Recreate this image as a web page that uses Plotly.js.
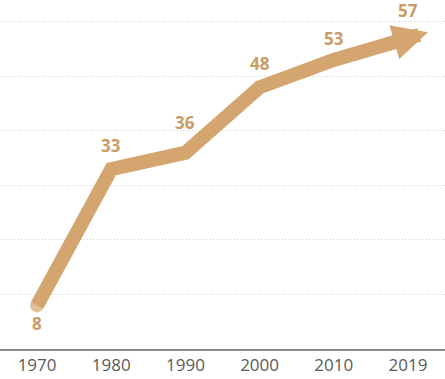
<!DOCTYPE html>
<html>
<head>
<meta charset="utf-8">
<script src="https://cdn.plot.ly/plotly-3.0.1.min.js"></script>
<style>html,body{margin:0;padding:0;background:#fff;}#chart{width:445px;height:379px;}</style>
</head>
<body>
<div id="chart"></div>
<script>
const years = ["1970", "1980", "1990", "2000", "2010", "2019"];
const values = [8, 33, 36, 48, 53, 57];
const labelShift = [-18, 24, 30, 24, 21, 28];

const lineColor = "#D4A56F";
const textColor = "#C99C66";

const n = values.length;
const ext = 0.27;
const slope = values[n - 1] - values[n - 2];
const tipX = (n - 1) + ext;
const tipY = values[n - 1] + slope * ext;
const tailX = (n - 1) - 0.3;
const tailY = values[n - 1] - slope * 0.3;

const annotations = values.map((v, i) => ({
  x: i, y: v, xref: "x", yref: "y",
  text: String(v), showarrow: false,
  yshift: labelShift[i],
  font: {family: "Open Sans, sans-serif", size: 17, color: textColor, weight: 700}
}));
annotations.push({
  x: tipX, y: tipY, xref: "x", yref: "y",
  ax: tailX, ay: tailY, axref: "x", ayref: "y",
  text: "", showarrow: true, arrowhead: 2, arrowsize: 0.5,
  arrowwidth: 14, arrowcolor: lineColor, standoff: 0
});

Plotly.newPlot("chart", [{
  x: years.map((y, i) => i),
  y: values,
  type: "scatter",
  mode: "lines+markers",
  line: {color: lineColor, width: 14},
  marker: {color: lineColor, size: values.map((v, i) => i === 0 ? 14 : 0), line: {width: 0}},
  hoverinfo: "skip"
}], {
  width: 445, height: 379,
  margin: {l: 0, r: 0, t: 0, b: 30},
  paper_bgcolor: "#fff", plot_bgcolor: "#fff",
  showlegend: false,
  xaxis: {
    tickmode: "array", tickvals: years.map((y, i) => i), ticktext: years,
    range: [-0.5, 5.5], showgrid: false, zeroline: false,
    showline: true, linecolor: "#8a8a8a", linewidth: 1.5,
    ticks: "", ticklen: 0,
    tickfont: {family: "Open Sans, sans-serif", size: 17, color: "#5a5a5a"}
  },
  yaxis: {
    range: [0, 64], dtick: 10, tick0: 0,
    showgrid: true, gridcolor: "#cfcfcf", gridwidth: 1, griddash: "1px,2px",
    zeroline: false, showticklabels: false, showline: false, ticks: ""
  },
  annotations: annotations
}, {displayModeBar: false, staticPlot: true});
</script>
</body>
</html>
